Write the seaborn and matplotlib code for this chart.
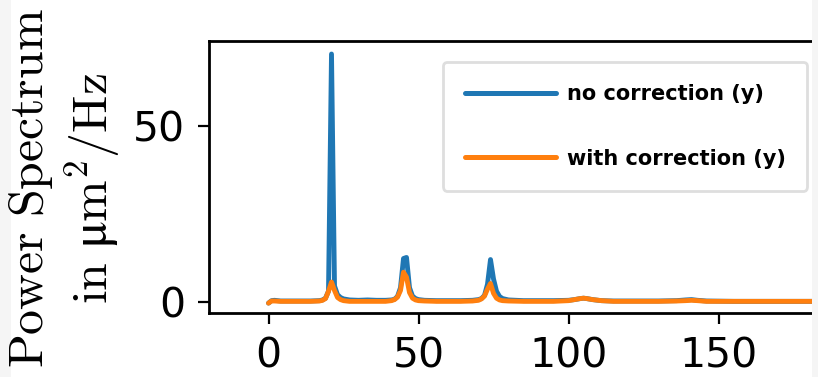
import numpy as np
import pandas as pd
import matplotlib
matplotlib.use("Agg")
import matplotlib.pyplot as plt
from matplotlib.patches import Rectangle
import seaborn as sns

# Power spectra (frequency in Hz, power in um^2/Hz)
freq = [0, 1, 2, 4, 7, 10, 14, 17, 18, 19, 20, 21, 22, 23, 24, 25, 27, 30, 33, 36,
        39, 41, 42, 43, 44, 45, 46, 47, 48, 49, 50, 52, 56, 60, 64, 68, 70, 71, 72, 73,
        74, 75, 76, 77, 78, 80, 85, 90, 95, 100, 102, 104, 105, 106, 108, 111, 115, 120, 130, 136,
        139, 141, 143, 146, 155, 170, 185, 200]
no_corr = [-0.4, 0.3, 0.4, 0.2, 0.2, 0.2, 0.2, 0.3, 0.5, 1.0, 3.0, 70.5, 4.5, 2.0, 1.2, 0.8, 0.5, 0.4, 0.5, 0.4,
           0.4, 0.5, 0.7, 1.5, 4.0, 12.3, 12.6, 4.0, 1.6, 0.9, 0.6, 0.4, 0.3, 0.3, 0.3, 0.4, 0.6, 0.9, 1.8, 5.0,
           12.0, 6.5, 3.0, 1.5, 0.9, 0.5, 0.3, 0.3, 0.3, 0.4, 0.6, 0.9, 1.0, 0.9, 0.6, 0.3, 0.2, 0.2, 0.2, 0.3,
           0.5, 0.6, 0.4, 0.2, 0.1, 0.1, 0.1, 0.1]
with_corr = [-0.4, 0.2, 0.2, 0.1, 0.1, 0.1, 0.1, 0.2, 0.4, 0.9, 3.0, 5.6, 3.2, 1.2, 0.6, 0.3, 0.1, 0.1, 0.1, 0.1,
             0.1, 0.3, 0.6, 1.3, 3.2, 8.4, 7.0, 2.6, 1.0, 0.5, 0.3, 0.2, 0.1, 0.1, 0.1, 0.2, 0.4, 0.8, 1.6, 3.6,
             5.2, 2.4, 1.0, 0.5, 0.3, 0.2, 0.1, 0.1, 0.1, 0.3, 0.6, 0.9, 1.0, 0.9, 0.6, 0.3, 0.1, 0.1, 0.1, 0.2,
             0.3, 0.4, 0.3, 0.1, 0.1, 0.1, 0.1, 0.1]
labels = ["no correction (y)", "with correction (y)"]
colors = ["#1f77b4", "#ff7f0e"]
xticks = [0, 50, 100, 150]
yticks = [0, 50]

sns.set_theme(style="ticks")
plt.rcParams["font.family"] = ["DejaVu Sans"]
plt.rcParams["mathtext.fontset"] = "cm"
plt.rcParams["axes.edgecolor"] = "black"
plt.rcParams["text.color"] = "black"

W, H = 818, 377
fig = plt.figure(figsize=(W / 100, H / 100), dpi=100)
fig.patch.set_facecolor("white")

# axes runs past the right edge of the picture (the reference is a crop)
ax = fig.add_axes([208.5 / W, 1 - 313.3 / H, 1260 / W, 272.3 / H])

df = pd.DataFrame({"freq": freq, "no": no_corr, "with": with_corr})
sns.lineplot(data=df, x="freq", y="no", color=colors[0], lw=3.5, label=labels[0], ax=ax)
sns.lineplot(data=df, x="freq", y="with", color=colors[1], lw=3.5, label=labels[1], ax=ax)

ax.set_xlim(-20, 400)
ax.set_ylim(-3.3, 74.2)
ax.set_xticks(xticks)
ax.set_yticks(yticks)
ax.set_xlabel("")
ax.tick_params(labelsize=29.5, length=8, width=1.6, pad=9, color="black", labelcolor="black")
for sp in ax.spines.values():
    sp.set_linewidth(2)
    sp.set_color("black")

ax.set_ylabel("$\\mathrm{Power\\ Spectrum}$\n$\\mathrm{in\\ μm}^2/\\mathrm{Hz}$",
              fontsize=35.9, color="black", linespacing=1.15)
ax.yaxis.set_label_coords(122 / W, 1 - 188 / H, transform=fig.transFigure)

leg = ax.legend(loc="upper left", bbox_to_anchor=(442.7 / W, 1 - 62 / H),
                bbox_transform=fig.transFigure, borderaxespad=0,
                prop={"weight": "bold", "size": 15}, handlelength=4.4,
                handletextpad=0.5, labelspacing=2.15, borderpad=1.05, fancybox=True)
leg.get_frame().set_edgecolor("#d6d6d6")
leg.get_frame().set_linewidth(2)
for line in leg.get_lines():
    line.set_linewidth(3.6)

# light grey page margins visible at both sides of the crop
fig.patches.append(Rectangle((0, 0), 11 / W, 1, transform=fig.transFigure,
                             facecolor="#f5f5f5", edgecolor="none", zorder=-1))
fig.patches.append(Rectangle((811.5 / W, 0), 7 / W, 1, transform=fig.transFigure,
                             facecolor="#f5f5f5", edgecolor="none", zorder=10))

fig.savefig("out.png", dpi=100)
